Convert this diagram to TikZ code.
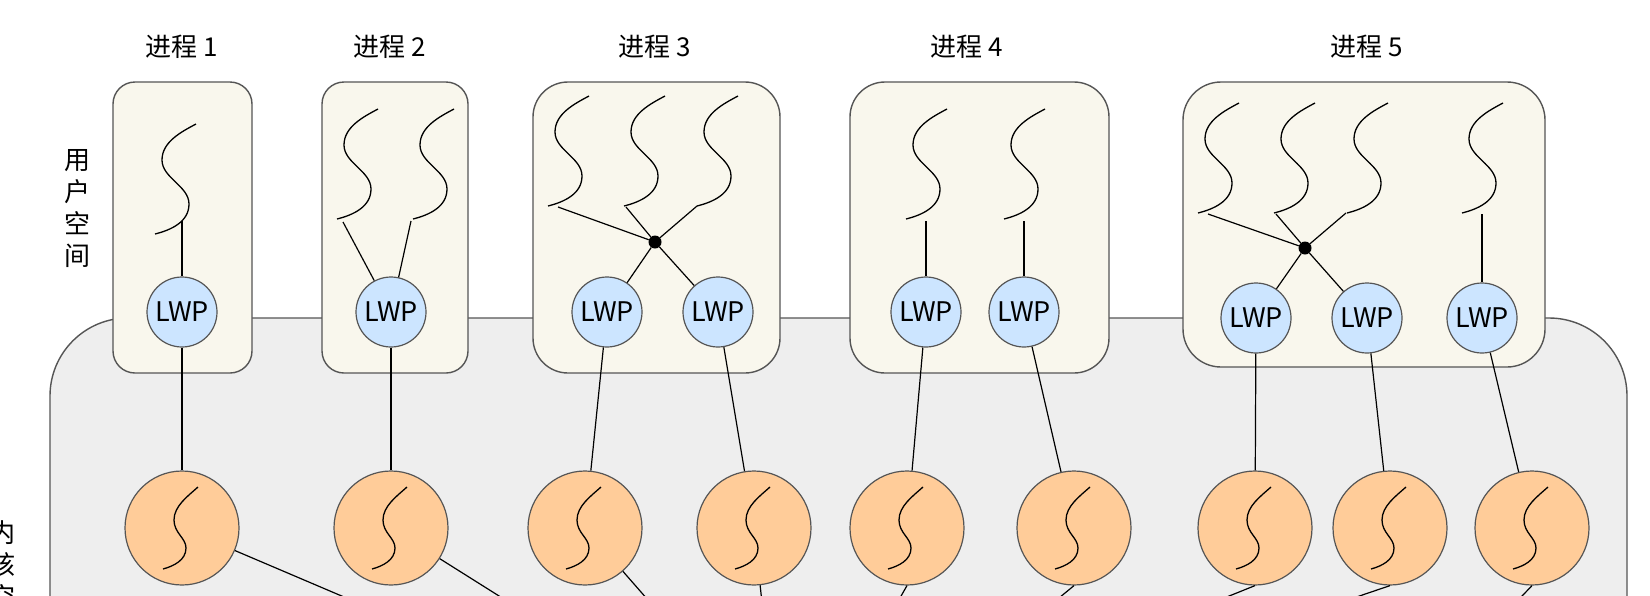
\documentclass[tikz,border=0pt]{standalone}
\usepackage{fontspec}
\setmainfont{Noto Sans CJK SC}
\definecolor{procfill}{HTML}{F9F7ED}
\definecolor{kernfill}{HTML}{EEEEEE}
\definecolor{lwpfill}{HTML}{CCE5FF}
\definecolor{orangefill}{HTML}{FFCC99}
\definecolor{strokegray}{HTML}{555555}
\tikzset{
  procbox/.style={draw=strokegray, fill=procfill, line width=1.4pt},
  kernbox/.style={draw=strokegray, fill=kernfill, line width=1.4pt},
  lwp/.style={circle, draw=strokegray, fill=lwpfill, line width=1.2pt, minimum size=70pt, inner sep=0pt, font=\fontsize{27}{30}\selectfont},
  kth/.style={circle, draw=strokegray, fill=orangefill, line width=1.2pt, minimum size=114pt, inner sep=0pt},
  conn/.style={draw=black, line width=1.2pt},
  thr/.style={draw=black, line width=1.3pt},
  junc/.style={circle, fill=black, minimum size=13pt, inner sep=0pt},
  ptitle/.style={font=\fontsize{26}{30}\selectfont},
  vlabel/.style={align=center, font=\fontsize{26}{32}\selectfont},
  uthread/.pic={\draw[thr] (0,0) .. controls (-15,8) and (-34,18) .. (-34,36) .. controls (-34,54) and (-7,62) .. (-7,80) .. controls (-7,98) and (-25,106) .. (-41,110);},
  kthread/.pic={\draw[thr] (16,-41) .. controls (6,-32) and (-8,-22) .. (-8,-8) .. controls (-8,5) and (4,10) .. (4,20) .. controls (4,32) and (-8,38) .. (-19,41);}
}
\begin{document}
\begin{tikzpicture}[x=1pt,y=-1pt]
\useasboundingbox (0,0) rectangle (1650,595);
\clip (0,0) rectangle (1650,595);
\fill[white] (0,0) rectangle (1650,595);

% kernel space box
\draw[kernbox, rounded corners=78pt] (50,318) rectangle (1627,800);

% process boxes
\draw[procbox, rounded corners=22pt] (113,82) rectangle (252,373);
\draw[procbox, rounded corners=22pt] (322,82) rectangle (468,373);
\draw[procbox, rounded corners=35pt] (533,82) rectangle (780,373);
\draw[procbox, rounded corners=35pt] (850,82) rectangle (1109,373);
\draw[procbox, rounded corners=38pt] (1183,82) rectangle (1545,367);

% titles
\node[ptitle] (T1) at (182,47) {进程 1};
\node[ptitle] (T2) at (390,47) {进程 2};
\node[ptitle] (T3) at (655,47) {进程 3};
\node[ptitle] (T4) at (967,47) {进程 4};
\node[ptitle] (T5) at (1367,47) {进程 5};

% side labels
\node[vlabel] (US) at (77,209) {用\\户\\空\\间};
\node[vlabel] (KS) at (3,581) {内\\核\\空\\间};

% LWP nodes
\node[lwp] (L1) at (182,312) {LWP};
\node[lwp] (L2) at (391,312) {LWP};
\node[lwp] (L3a) at (607,312) {LWP};
\node[lwp] (L3b) at (718,312) {LWP};
\node[lwp] (L4a) at (926,312) {LWP};
\node[lwp] (L4b) at (1024,312) {LWP};
\node[lwp] (L5a) at (1256,318) {LWP};
\node[lwp] (L5b) at (1367,318) {LWP};
\node[lwp] (L5c) at (1482,318) {LWP};

% kernel threads
\node[kth] (K1) at (182,528) {};
\node[kth] (K2) at (391,528) {};
\node[kth] (K3) at (585,528) {};
\node[kth] (K4) at (754,528) {};
\node[kth] (K5) at (907,528) {};
\node[kth] (K6) at (1074,528) {};
\node[kth] (K7) at (1255,528) {};
\node[kth] (K8) at (1390,528) {};
\node[kth] (K9) at (1532,528) {};
\foreach \k in {K1,K2,K3,K4,K5,K6,K7,K8,K9} { \pic at (\k) {kthread}; }

% junction dots
\node[junc] (D3) at (655,242) {};
\node[junc] (D5) at (1305,248) {};

% user threads
\pic at (196,124) {uthread};
\pic at (378,109) {uthread};
\pic at (454,109) {uthread};
\pic at (589,96) {uthread};
\pic at (665,96) {uthread};
\pic at (738,96) {uthread};
\pic at (947,109) {uthread};
\pic at (1045,109) {uthread};
\pic at (1239,103) {uthread};
\pic at (1315,103) {uthread};
\pic at (1388,103) {uthread};
\pic at (1503,103) {uthread};

% thread attachment points
\coordinate (c1) at (182,221);
\coordinate (c2a) at (343,222);
\coordinate (c2b) at (411,221);
\coordinate (c3a) at (558,207);
\coordinate (c3b) at (626,207);
\coordinate (c3c) at (697,206);
\coordinate (c4a) at (926,221);
\coordinate (c4b) at (1024,221);
\coordinate (c5a) at (1208,214);
\coordinate (c5b) at (1276,214);
\coordinate (c5c) at (1346,213);
\coordinate (c5d) at (1482,214);

% user thread -> LWP
\draw[conn] (c1) -- (L1);
\draw[conn] (c2a) -- (L2);
\draw[conn] (c2b) -- (L2);
\draw[conn] (c3a) -- (D3);
\draw[conn] (c3b) -- (D3);
\draw[conn] (c3c) -- (D3);
\draw[conn] (D3) -- (L3a);
\draw[conn] (D3) -- (L3b);
\draw[conn] (c4a) -- (L4a);
\draw[conn] (c4b) -- (L4b);
\draw[conn] (c5a) -- (D5);
\draw[conn] (c5b) -- (D5);
\draw[conn] (c5c) -- (D5);
\draw[conn] (D5) -- (L5a);
\draw[conn] (D5) -- (L5b);
\draw[conn] (c5d) -- (L5c);

% LWP -> kernel thread
\draw[conn] (L1) -- (K1);
\draw[conn] (L2) -- (K2);
\draw[conn] (L3a) -- (K3);
\draw[conn] (L3b) -- (K4);
\draw[conn] (L4a) -- (K5);
\draw[conn] (L4b) -- (K6);
\draw[conn] (L5a) -- (K7);
\draw[conn] (L5b) -- (K8);
\draw[conn] (L5c) -- (K9);

% kernel thread -> (below, off picture)
\coordinate (e1) at (445,640);
\coordinate (e2) at (569,640);
\coordinate (e3) at (683,640);
\coordinate (e4) at (766,640);
\coordinate (e5) at (876,640);
\coordinate (e6) at (1008,640);
\coordinate (e7) at (1120,640);
\coordinate (e8) at (1230,640);
\coordinate (e9) at (1480,640);
\draw[conn] (K1) -- (e1);
\draw[conn] (K2) -- (e2);
\draw[conn] (K3) -- (e3);
\draw[conn] (K4) -- (e4);
\draw[conn] (K5.south) -- (e5);
\draw[conn] (K6.south) -- (e6);
\draw[conn] (K7.south) -- (e7);
\draw[conn] (K8.south) -- (e8);
\draw[conn] (K9.south) -- (e9);
\end{tikzpicture}
\end{document}
